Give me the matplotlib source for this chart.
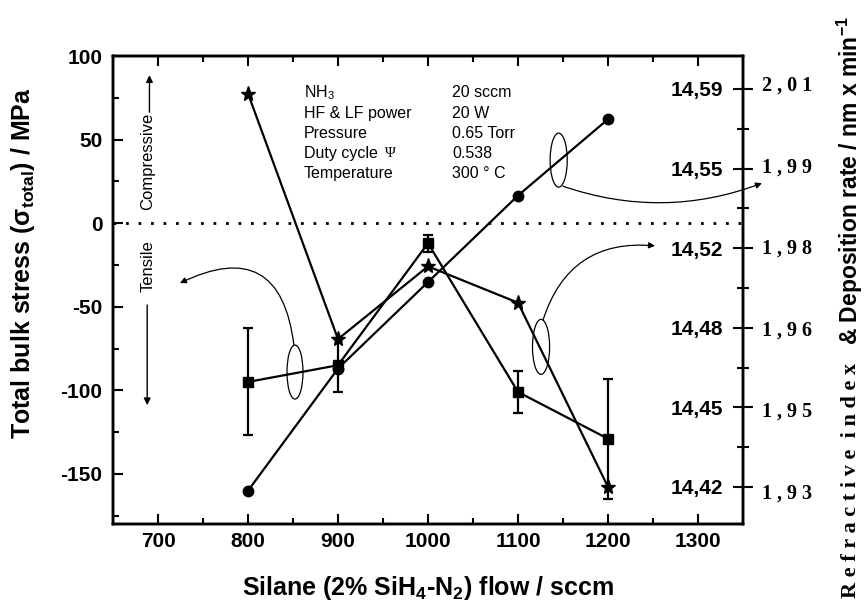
import matplotlib
matplotlib.use('Agg')
import matplotlib.pyplot as plt
from matplotlib.patches import Ellipse
from matplotlib.ticker import FixedLocator

plt.rcParams['font.family'] = ['Liberation Sans', 'DejaVu Sans']
plt.rcParams['mathtext.fontset'] = 'custom'
plt.rcParams['mathtext.rm'] = 'Liberation Sans'
plt.rcParams['mathtext.bf'] = 'Liberation Sans:bold'
plt.rcParams['mathtext.it'] = 'Liberation Sans:italic'
plt.rcParams['mathtext.default'] = 'regular'

# ---------------- data ----------------
silane_flow = [800, 900, 1000, 1100, 1200]
stress = [-95, -85, -12, -101, -129]
stress_err = [32, 16, 5, 12.5, 36]
dep_rate = [14.588, 14.480, 14.512, 14.496, 14.415]
refr_index = [1.930, 1.954, 1.971, 1.988, 2.003]

x_ticks = [700, 800, 900, 1000, 1100, 1200, 1300]
x_minor = [750, 850, 950, 1050, 1150, 1250]
stress_ticks = [-150, -100, -50, 0, 50, 100]
stress_minor = [-175, -125, -75, -25, 25, 75]
dep_ticks = [14.59, 14.555, 14.52, 14.485, 14.45, 14.415]
dep_labels = ['14,59', '14,55', '14,52', '14,48', '14,45', '14,42']
ri_ticks = [2.01, 1.994, 1.978, 1.962, 1.946, 1.93]
ri_labels = ['2,01', '1,99', '1,98', '1,96', '1,95', '1,93']

param_names = ['NH$_3$', 'HF & LF power', 'Pressure', 'Duty cycle', 'Temperature']
param_values = ['20 sccm', '20 W', '0.65 Torr', '0.538', '300 ° C']

# ---------------- figure ----------------
W, H = 865, 604
fig = plt.figure(figsize=(W / 100, H / 100), dpi=100)
L, R, T, B = 113, 743, 56, 524
ax = fig.add_axes([L / W, 1 - B / H, (R - L) / W, (B - T) / H])
ax.set_xlim(650, 1350)
ax.set_ylim(-180, 100)

ax_dep = ax.twinx()
ax_dep.set_ylim(14.3987, 14.6045)
ax_ri = ax.twinx()
ax_ri.set_ylim(1.92346, 2.01542)

lw = 1.6
for a in (ax, ax_dep, ax_ri):
    for s in a.spines.values():
        s.set_linewidth(1.7)

# series
ax.errorbar(silane_flow, stress, yerr=stress_err, fmt='-s', color='k',
            ms=6.5, lw=lw, elinewidth=lw, capsize=3.8, capthick=lw, zorder=3)
ax_dep.plot(silane_flow, dep_rate, '-*', color='k', ms=11, lw=lw, zorder=3)
ax_ri.plot(silane_flow, refr_index, '-o', color='k', ms=7.5, lw=lw, zorder=3)

# main axis ticks
ax.set_xticks(x_ticks, [str(v) for v in x_ticks], fontweight='bold', fontsize=15)
ax.xaxis.set_minor_locator(FixedLocator(x_minor))
ax.set_yticks(stress_ticks, [str(v) for v in stress_ticks], fontweight='bold', fontsize=15)
ax.yaxis.set_minor_locator(FixedLocator(stress_minor))
ax.tick_params(axis='both', which='major', direction='in', length=7, width=1.5)
ax.tick_params(axis='both', which='minor', direction='in', length=4.5, width=1.5)
ax.tick_params(axis='x', which='both', top=True, pad=5.5)
ax.tick_params(axis='y', which='both', right=False, pad=7.5)

# deposition-rate axis (labels inside)
ax_dep.set_yticks(dep_ticks, dep_labels, fontweight='bold', fontsize=15,
                  horizontalalignment='right')
mids = [(dep_ticks[i] + dep_ticks[i + 1]) / 2 for i in range(len(dep_ticks) - 1)]
ax_dep.yaxis.set_minor_locator(FixedLocator(mids))
ax_dep.tick_params(axis='y', which='major', direction='inout', length=14, width=1.5, pad=-21.5)
ax_dep.tick_params(axis='y', which='minor', direction='inout', length=8, width=1.5)

# refractive-index axis (labels outside)
ax_ri.set_yticks(ri_ticks, [' '.join(list(s)) for s in ri_labels],
                 fontweight='bold', fontsize=14.5,
                 fontfamily=['Liberation Serif', 'DejaVu Serif'])
ax_ri.tick_params(axis='y', which='major', length=0, pad=13.5)

# axis labels
ax.set_xlabel('Silane (2% SiH$_4$-N$_2$) flow / sccm', fontsize=18, fontweight='bold')
ax.xaxis.set_label_coords(0.5005, -0.107)
ax.set_ylabel(r'Total bulk stress ($\sigma_{total}$) / MPa', fontsize=18, fontweight='bold')
ax.yaxis.set_label_coords(-0.1206, 0.5577)

fig.text(851 / W, 1 - 598 / H, ' '.join(list('Refractive')) + '  ' + ' '.join(list('index')),
         rotation=90, ha='center', va='bottom', fontsize=16, fontweight='bold',
         fontfamily=['Liberation Serif', 'DejaVu Serif'])
fig.text(850 / W, 1 - 345 / H, '& Deposition rate / nm x min$^{-1}$',
         rotation=90, ha='center', va='bottom', fontsize=16.5, fontweight='bold')

# zero line
ax.axhline(0, color='k', lw=2, ls=(0, (1, 3.5)), zorder=2)

# compressive / tensile
ax.text(689, 37.1, 'Compressive', rotation=90, ha='center', va='center', fontsize=12)
ax.annotate('', xy=(690.5, 88.5), xytext=(690.5, 66.4),
            arrowprops=dict(arrowstyle='-|>', lw=1, color='k', mutation_scale=10,
                            shrinkA=0, shrinkB=0))
ax.text(689, -25.7, 'Tensile', rotation=90, ha='center', va='center', fontsize=12)
ax.annotate('', xy=(688, -108.9), xytext=(688, -49),
            arrowprops=dict(arrowstyle='-|>', lw=1, color='k', mutation_scale=10,
                            shrinkA=0, shrinkB=0))

# parameter block
rows_y = [78.3, 65.8, 53.8, 41.5, 29.5]
for name, val, yy in zip(param_names, param_values, rows_y):
    ax.text(862.2, yy, name, ha='left', va='center', fontsize=11.5)
    ax.text(1026.7, yy, val, ha='left', va='center', fontsize=11.5)
ax.text(952, rows_y[3], 'Ψ', ha='left', va='center', fontsize=10.5,
        fontfamily=['Liberation Serif', 'DejaVu Serif'])

# ellipses marking each series
for (cx, cy, w, h) in [(852.2, -89.1, 17.8, 32.3), (1145.2, 37.7, 19, 32.3),
                       (1125.6, -74.0, 19, 32.9)]:
    ax.add_patch(Ellipse((cx, cy), w, h, fill=False, lw=0.9, ec='k', zorder=4))

arrow_kw = dict(arrowstyle='-|>', lw=0.9, color='k', mutation_scale=9, shrinkA=0, shrinkB=0)
ax.annotate('', xy=(724.4, -35.9), xytext=(851, -73),
            arrowprops=dict(connectionstyle='arc3,rad=0.7', **arrow_kw))
ax.annotate('', xy=(1371, 23.9), xytext=(1150, 22.1), annotation_clip=False,
            arrowprops=dict(connectionstyle='arc3,rad=0.18', **arrow_kw))
ax.annotate('', xy=(1252.2, -13.6), xytext=(1127.8, -58),
            arrowprops=dict(connectionstyle='arc3,rad=-0.4', **arrow_kw))

fig.savefig('out.png', dpi=100)
